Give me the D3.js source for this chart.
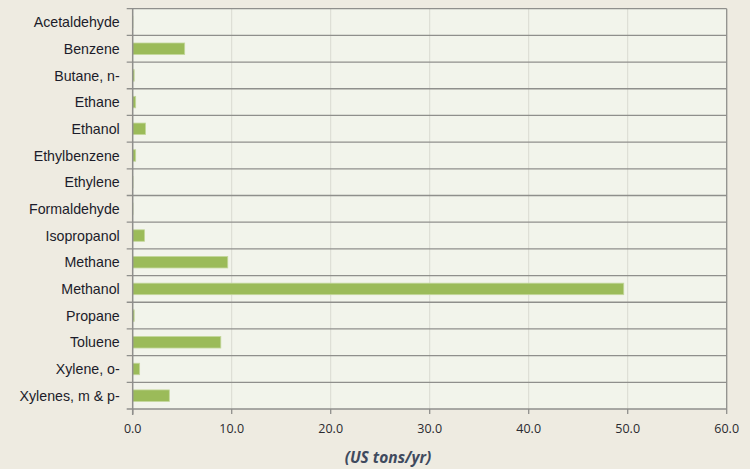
<!DOCTYPE html>
<html>
<head>
<meta charset="utf-8">
<script src="https://cdn.jsdelivr.net/npm/d3@7"></script>
<style>
  html, body { margin: 0; padding: 0; background: #EEEBE1; }
  svg { display: block; }
</style>
</head>
<body>
<svg id="chart" width="750" height="469"></svg>
<script>
// Annual emissions by compound (US tons/yr)
const compounds = [
  "Acetaldehyde", "Benzene", "Butane, n-", "Ethane", "Ethanol",
  "Ethylbenzene", "Ethylene", "Formaldehyde", "Isopropanol", "Methane",
  "Methanol", "Propane", "Toluene", "Xylene, o-", "Xylenes, m & p-"
];
const emissions = [
  0.02, 5.25, 0.15, 0.3, 1.3,
  0.3, 0.03, 0.03, 1.2, 9.6,
  49.6, 0.15, 8.9, 0.7, 3.7
];
const xTicks = [0, 10, 20, 30, 40, 50, 60];
const xTitle = "(US tons/yr)";

const svg = d3.select("#chart");
const plot = { left: 132.7, right: 726.7, top: 8.7, bottom: 409 };

const x = d3.scaleLinear().domain([0, 60]).range([plot.left, plot.right]);
const y = d3.scaleBand().domain(compounds).range([plot.top, plot.bottom])
  .paddingInner(0.57).paddingOuter(0.285);

// plot background
svg.append("rect")
  .attr("x", plot.left).attr("y", plot.top)
  .attr("width", plot.right - plot.left).attr("height", plot.bottom - plot.top)
  .attr("fill", "#F2F4EB");

// vertical gridlines
svg.append("g").selectAll("line").data(xTicks.slice(1, -1)).join("line")
  .attr("x1", d => x(d)).attr("x2", d => x(d))
  .attr("y1", plot.top).attr("y2", plot.bottom)
  .attr("stroke", "#D9DAD2").attr("stroke-width", 1);

// row separators (category boundaries)
const bounds = d3.range(compounds.length + 1).map(i => plot.top + i * (plot.bottom - plot.top) / compounds.length);
svg.append("g").selectAll("line").data(bounds).join("line")
  .attr("x1", plot.left - 6).attr("x2", plot.right)
  .attr("y1", d => d).attr("y2", d => d)
  .attr("stroke", "#8F8F8C").attr("stroke-width", 1.3);

// right border
svg.append("line")
  .attr("x1", plot.right).attr("x2", plot.right)
  .attr("y1", plot.top).attr("y2", plot.bottom)
  .attr("stroke", "#8F8F8C").attr("stroke-width", 1.3);

// bars
svg.append("g").selectAll("rect").data(compounds).join("rect")
  .attr("x", x(0))
  .attr("y", d => y(d))
  .attr("width", (d, i) => Math.max(0, x(emissions[i]) - x(0)))
  .attr("height", y.bandwidth())
  .attr("fill", "#9BBB59")
  .attr("stroke", "#C3D79B")
  .attr("stroke-width", 0.8);

// left axis line
svg.append("line")
  .attr("x1", plot.left).attr("x2", plot.left)
  .attr("y1", plot.top).attr("y2", plot.bottom + 6)
  .attr("stroke", "#8F8F8C").attr("stroke-width", 1.5);

// x tick marks
svg.append("g").selectAll("line").data(xTicks).join("line")
  .attr("x1", d => x(d)).attr("x2", d => x(d))
  .attr("y1", plot.bottom).attr("y2", plot.bottom + 5)
  .attr("stroke", "#8F8F8C").attr("stroke-width", 1.3);

// category labels
svg.append("g").selectAll("text").data(compounds).join("text")
  .attr("x", plot.left - 13)
  .attr("y", d => y(d) + y.bandwidth() / 2)
  .attr("dy", "0.36em")
  .attr("text-anchor", "end")
  .attr("font-family", "Liberation Sans, Arial, sans-serif")
  .attr("font-size", 14.2)
  .attr("fill", "#1C1C2A")
  .text(d => d);

// x tick labels
svg.append("g").selectAll("text").data(xTicks).join("text")
  .attr("x", d => x(d))
  .attr("y", 433)
  .attr("text-anchor", "middle")
  .attr("font-family", "Open Sans, sans-serif")
  .attr("font-size", 12.5)
  .attr("fill", "#2A2A30")
  .text(d => d3.format(".1f")(d));

// axis title
svg.append("text")
  .attr("x", 388).attr("y", 463)
  .attr("text-anchor", "middle")
  .attr("font-family", "Open Sans, sans-serif")
  .attr("font-style", "italic")
  .attr("font-weight", "bold")
  .attr("font-size", 15.5)
  .attr("fill", "#3F4A5E")
  .text(xTitle);
</script>
</body>
</html>
